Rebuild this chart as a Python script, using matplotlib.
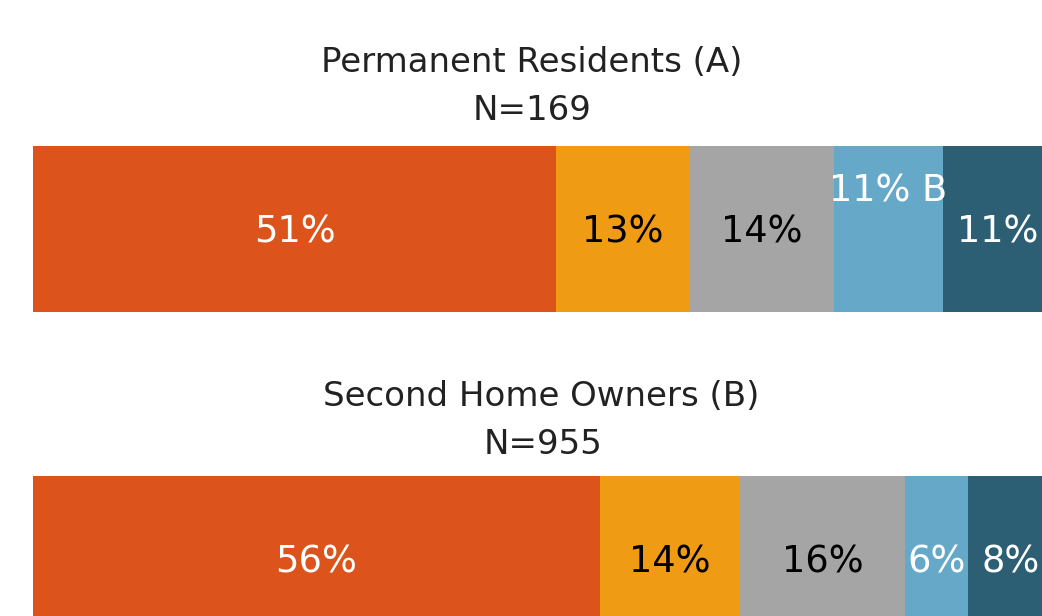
import matplotlib.pyplot as plt

# survey shares per group (percent)
groups = ['Permanent Residents (A)', 'Second Home Owners (B)']
n_sizes = [169, 955]
resident_vals = [51.3, 13.1, 14.1, 10.7, 10.8]
owner_vals = [55.6, 13.7, 16.2, 6.2, 8.3]
# significance letters attached to a segment label
resident_sig = ['', '', '', 'B', '']
owner_sig = ['', '', '', '', '']

colors = ['#DC531C', '#EF9B14', '#A5A5A5', '#66A8C8', '#2C5F74']
text_colors = ['white', 'black', 'black', 'white', 'white']

W, H = 1042, 616
fig = plt.figure(figsize=(W / 100, H / 100), dpi=100)
plt.rcParams['font.family'] = ['DejaVu Sans']


def px(x, y):
    # pixel coords (from top-left) to figure fraction
    return x / W, 1 - y / H


bar_left = 33
bar_width = 1020
bar_height = 166
bar_tops = [146, 476]
title_pos = [(532, 62), (541, 397)]
n_pos = [(532, 110), (543, 445)]

for i, (vals, sig) in enumerate([(resident_vals, resident_sig), (owner_vals, owner_sig)]):
    top = bar_tops[i]
    ax = fig.add_axes([bar_left / W, 1 - (top + bar_height) / H, bar_width / W, bar_height / H])
    left = 0
    for v, c, tc, s in zip(vals, colors, text_colors, sig):
        ax.barh(0, v, left=left, height=1, color=c, edgecolor='none')
        lab = f'{round(v)}%'
        if s:
            ax.text(left + v / 2, 0.23, f'{lab} {s}', ha='center', va='center',
                    color=tc, fontsize=26.5)
        else:
            ax.text(left + v / 2, -0.02, lab, ha='center', va='center',
                    color=tc, fontsize=26.5)
        left += v
    ax.set_xlim(0, 100)
    ax.set_ylim(-0.5, 0.5)
    ax.axis('off')

    fig.text(*px(*title_pos[i]), groups[i], ha='center', va='center', fontsize=24.5, color='#222222')
    fig.text(*px(*n_pos[i]), f'N={n_sizes[i]}', ha='center', va='center', fontsize=24.5, color='#222222')

plt.savefig('out.png', dpi=100)
